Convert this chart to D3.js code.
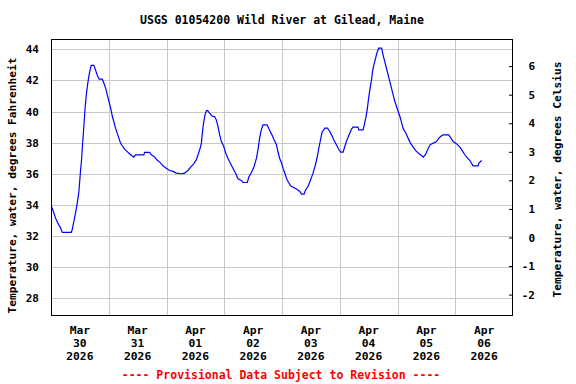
<!DOCTYPE html>
<html lang="en">
<head>
    <meta charset="UTF-8">
    <title>USGS 01054200 Wild River at Gilead, Maine</title>
    <script src="https://cdn.jsdelivr.net/npm/d3@7/dist/d3.min.js"></script>
    <style>
        body { margin: 0; background: #fff; }
        svg { display: block; background: #fff; }
        text { font-family: "DejaVu Sans Mono", monospace; font-weight: bold; fill: #000; }
        .grid line { stroke: #c8c8c8; stroke-width: 1; }
    </style>
</head>
<body>
<script>
    // graph size
    const width = 576;
    const height = 384;
    const margin = {top: 39, right: 63, bottom: 68, left: 51};

    const title = 'USGS 01054200 Wild River at Gilead, Maine';
    const leftLabel = 'Temperature, water, degrees Fahrenheit';
    const rightLabel = 'Temperature, water, degrees Celsius';
    const footer = '---- Provisional Data Subject to Revision ----';

    // day labels (month, day, year)
    const dayMonths = ['Mar', 'Mar', 'Apr', 'Apr', 'Apr', 'Apr', 'Apr', 'Apr'];
    const dayNums = ['30', '31', '01', '02', '03', '04', '05', '06'];
    const dayYears = ['2026', '2026', '2026', '2026', '2026', '2026', '2026', '2026'];

    const fTicks = [28, 30, 32, 34, 36, 38, 40, 42, 44];
    const cTicks = [-2, -1, 0, 1, 2, 3, 4, 5, 6];

    // hours after Mar 30 00:00
    const obsHours = [
        0.2, 1.2, 1.9, 2.8, 4.0, 4.7, 8.4, 8.8, 9.5, 10.2, 10.9, 11.6, 12.3, 12.7, 13.1, 13.6,
        14.1, 14.6, 15.1, 15.6, 16.1, 16.7, 17.8, 18.5, 19.2, 20.0, 21.3, 22.0, 22.7, 23.4,
        24.1, 24.8, 25.5, 26.1, 26.8, 27.5, 28.2, 28.9, 29.6, 30.6, 31.9, 33.1, 34.4, 35.1,
        38.6, 38.9, 41.0, 41.7, 43.1, 44.0, 45.4, 46.5, 47.9, 49.3, 50.7, 52.1, 54.2, 55.5,
        56.9, 58.3, 59.3, 60.4, 61.1, 61.8, 62.5, 62.9, 63.4, 64.0, 64.6, 65.1, 65.9, 67.1,
        68.0, 68.7, 69.4, 70.1, 70.8, 71.8, 72.6, 73.5, 74.5, 75.6, 76.7, 77.7, 79.1, 79.8,
        81.6, 82.2, 83.3, 84.4, 85.4, 86.0, 86.7, 87.4, 88.1, 89.8, 90.2, 90.9, 91.8, 92.7,
        93.7, 94.3, 95.0, 95.8, 96.4, 97.1, 97.8, 98.5, 99.6, 100.6, 102.0, 103.4, 104.1,
        105.2, 105.7, 106.8, 107.9, 108.9, 109.9, 110.7, 111.3, 112.0, 112.6, 113.8, 114.9,
        115.6, 116.6, 117.5, 118.6, 119.7, 120.4, 121.4, 122.1, 123.0, 123.9, 124.9, 125.5,
        127.6, 127.9, 129.7, 130.1, 130.8, 131.4, 131.9, 132.5, 133.2, 133.6, 134.2, 134.9,
        135.5, 136.2, 137.4, 138.0, 138.7, 139.4, 140.1, 140.8, 141.5, 142.2, 142.9, 143.6,
        144.3, 145.0, 145.7, 146.3, 147.5, 148.4, 149.4, 150.5, 151.6, 152.6, 154.0, 154.7,
        155.8, 156.5, 157.5, 158.8, 160.2, 161.2, 162.3, 163.0, 165.3, 166.2, 167.1, 168.6,
        169.9, 170.9, 172.0, 173.1, 174.1, 175.4, 177.5, 177.8, 179.0
    ];
    const tempF = [
        33.90, 33.48, 33.15, 32.83, 32.51, 32.23, 32.23, 32.40, 32.94, 33.48, 34.10, 34.86, 36.26, 36.90, 37.86, 38.93,
        40.10, 40.96, 41.60, 42.14, 42.56, 42.97, 42.97, 42.67, 42.35, 42.08, 42.08, 41.82, 41.50, 41.07,
        40.64, 40.22, 39.68, 39.36, 38.93, 38.61, 38.29, 37.97, 37.80, 37.58, 37.39, 37.22, 37.07, 37.22,
        37.22, 37.37, 37.37, 37.22, 37.07, 36.90, 36.72, 36.51, 36.36, 36.21, 36.15, 36.04, 36.00, 36.04,
        36.21, 36.47, 36.64, 36.90, 37.22, 37.54, 37.97, 38.61, 39.25, 39.79, 40.06, 40.06, 39.90, 39.68,
        39.68, 39.46, 39.03, 38.50, 38.07, 37.75, 37.33, 37.00, 36.69, 36.36, 36.04, 35.68, 35.57, 35.44,
        35.44, 35.79, 36.08, 36.47, 37.00, 37.54, 38.29, 38.82, 39.14, 39.14, 39.00, 38.78, 38.50, 38.18,
        37.86, 37.43, 37.00, 36.69, 36.36, 36.08, 35.72, 35.50, 35.23, 35.14, 35.02, 34.86, 34.69,
        34.69, 34.93, 35.18, 35.61, 36.04, 36.58, 37.11, 37.65, 38.18, 38.65, 38.93, 38.93,
        38.78, 38.50, 38.18, 37.86, 37.54, 37.39, 37.39, 37.75, 38.18, 38.50, 38.87, 39.00,
        39.00, 38.82, 38.82, 39.08, 39.57, 40.10, 40.75, 41.39, 42.03, 42.56, 43.00, 43.43,
        43.79, 44.07, 44.07, 43.64, 43.21, 42.78, 42.35, 41.92, 41.50, 41.07, 40.64, 40.32,
        40.00, 39.68, 39.29, 38.93, 38.61, 38.29, 37.97, 37.71, 37.49, 37.33, 37.17, 37.07,
        37.28, 37.54, 37.86, 37.97, 38.07, 38.29, 38.44, 38.50, 38.50, 38.29, 38.07, 37.92,
        37.71, 37.49, 37.22, 37.00, 36.85, 36.51, 36.51, 36.69, 36.85
    ];

    const start = new Date(2026, 2, 30);
    const end = new Date(2026, 3, 7);
    const data = obsHours.map((h, i) => ({t: new Date(start.getTime() + h * 3600e3), v: tempF[i]}));

    const svg = d3.select('body')
        .append('svg')
        .attr('width', width)
        .attr('height', height);

    const x = d3.scaleTime().domain([start, end]).range([margin.left, width - margin.right]);
    const y = d3.scaleLinear().domain([26.86, 44.66]).range([height - margin.bottom, margin.top]);
    const yC = d3.scaleLinear().domain([-2.75, 6.95]).range([height - margin.bottom, margin.top]);

    const days = d3.timeDay.range(start, end);

    // grid
    const grid = svg.append('g').attr('class', 'grid');
    grid.selectAll('.hg')
        .data(fTicks)
        .enter()
        .append('line')
        .attr('x1', margin.left).attr('x2', width - margin.right)
        .attr('y1', d => Math.round(y(d)) + 0.5).attr('y2', d => Math.round(y(d)) + 0.5);
    grid.selectAll('.vg')
        .data(days.slice(1))
        .enter()
        .append('line')
        .attr('y1', margin.top).attr('y2', height - margin.bottom)
        .attr('x1', d => Math.round(x(d)) + 0.5).attr('x2', d => Math.round(x(d)) + 0.5);

    // left axis labels
    const yAxis = d3.axisLeft(y).tickValues(fTicks).tickSize(0).tickPadding(12);
    svg.append('g')
        .attr('transform', `translate(${margin.left},0)`)
        .call(yAxis)
        .call(g => g.select('.domain').remove())
        .selectAll('text')
        .style('font-size', '11px');

    // right axis (Celsius)
    const cAxis = d3.axisRight(yC).tickValues(cTicks).tickSize(-4).tickPadding(10).tickFormat(d3.format('d'));
    svg.append('g')
        .attr('transform', `translate(${width - margin.right},0)`)
        .call(cAxis)
        .call(g => g.select('.domain').remove())
        .call(g => g.selectAll('line').attr('stroke', '#000'))
        .selectAll('text')
        .attr('text-anchor', 'end')
        .attr('dx', 12)
        .style('font-size', '11px')
        .text(d => d < 0 ? '-' + Math.abs(d) : d);

    // data line
    const line = d3.line()
        .x(d => x(d.t))
        .y(d => y(d.v));
    svg.append('path')
        .datum(data)
        .attr('fill', 'none')
        .attr('stroke', '#0000ff')
        .attr('stroke-width', 1.2)
        .attr('d', line);

    // frame
    svg.append('rect')
        .attr('x', margin.left + 0.5)
        .attr('y', margin.top + 0.5)
        .attr('width', width - margin.left - margin.right - 1)
        .attr('height', height - margin.top - margin.bottom - 1)
        .attr('fill', 'none')
        .attr('stroke', '#000');

    // day labels at noon
    const dayLabels = svg.append('g')
        .selectAll('text')
        .data(days)
        .enter()
        .append('text')
        .attr('text-anchor', 'middle')
        .attr('x', d => x(d3.timeHour.offset(d, 12)))
        .attr('y', 334)
        .style('font-size', '11.3px');
    dayLabels.append('tspan').attr('dy', 0).text((d, i) => dayMonths[i]);
    dayLabels.append('tspan').attr('x', d => x(d3.timeHour.offset(d, 12))).attr('dy', 13).text((d, i) => dayNums[i]);
    dayLabels.append('tspan').attr('x', d => x(d3.timeHour.offset(d, 12))).attr('dy', 13).text((d, i) => dayYears[i]);

    // title
    svg.append('text')
        .attr('x', 282)
        .attr('y', 24)
        .attr('text-anchor', 'middle')
        .style('font-size', '11.5px')
        .text(title);

    // axis titles
    svg.append('text')
        .attr('transform', `translate(16,${(margin.top + height - margin.bottom) / 2 + 8}) rotate(-90)`)
        .attr('text-anchor', 'middle')
        .style('font-size', '11.2px')
        .text(leftLabel);
    svg.append('text')
        .attr('transform', `translate(561,${(margin.top + height - margin.bottom) / 2 + 2}) rotate(-90)`)
        .attr('text-anchor', 'middle')
        .style('font-size', '11.2px')
        .text(rightLabel);

    // provisional note
    svg.append('text')
        .attr('x', 281)
        .attr('y', 379)
        .attr('text-anchor', 'middle')
        .style('font-size', '11.5px')
        .style('fill', '#ff0000')
        .text(footer);
</script>
</body>
</html>
